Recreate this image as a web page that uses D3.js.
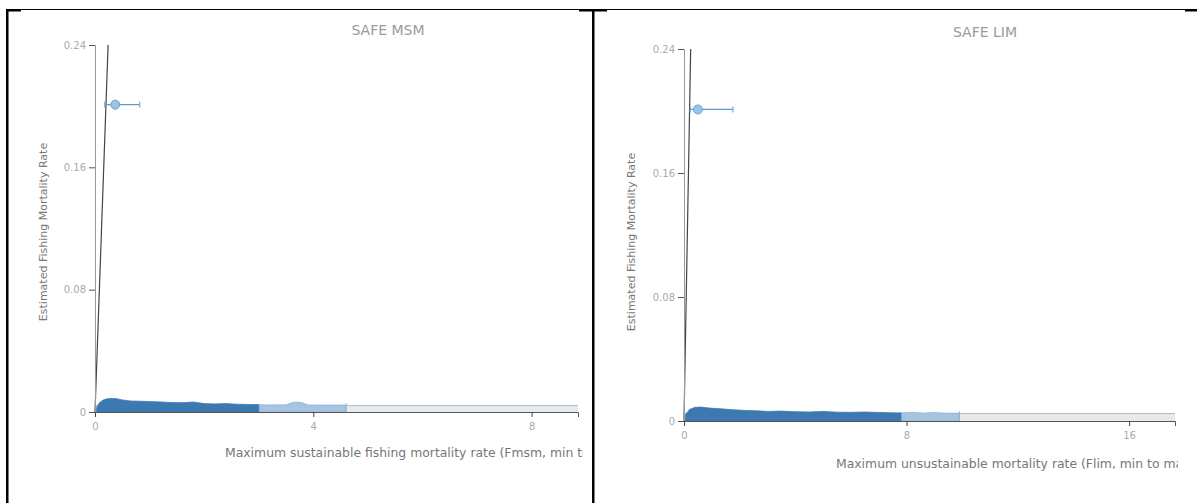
<!DOCTYPE html>
<html>
<head>
<meta charset="utf-8">
<script src="https://cdn.jsdelivr.net/npm/d3@7"></script>
<style>
    body { margin: 0; background: #fff; font-family: "DejaVu Sans", sans-serif; }
    svg text { font-family: "DejaVu Sans", sans-serif; }
</style>
</head>
<body>
<svg id="page" width="1197" height="503"></svg>
<script>
// ---- data ----
const yTickValues = [0, 0.08, 0.16, 0.24];
const msmTickValues = [0, 4, 8];
const limTickValues = [0, 8, 16];

// identity line F = Fref
const identityX = [0, 0.24];

// SAFE MSM: outlier stock with interval
const msmOutlierF = [0.37];
const msmOutlierLo = [0.18];
const msmOutlierHi = [0.82];
const msmOutlierRate = [0.201];

// SAFE MSM: dense cloud of stocks near zero (upper envelope)
const msmCloudX = [0.03, 0.08, 0.15, 0.22, 0.3, 0.4, 0.5, 0.65, 0.8, 1.0, 1.2, 1.4, 1.6, 1.8, 2.0, 2.2, 2.4, 2.6, 2.8, 3.0];
const msmCloudTop = [0.003, 0.006, 0.0078, 0.0086, 0.0089, 0.0087, 0.0079, 0.0072, 0.0071, 0.0068, 0.0066, 0.0062, 0.0061, 0.0065, 0.0055, 0.0053, 0.0055, 0.0051, 0.0049, 0.0048];
const msmTailX = [2.9, 3.2, 3.5, 3.6, 3.7, 3.8, 3.9, 4.2, 4.6];
const msmTailTop = [0.0047, 0.0046, 0.0047, 0.006, 0.0066, 0.006, 0.0046, 0.0045, 0.0045];
const msmBandTop = [0.0043];

// SAFE LIM
const limOutlierF = [0.5];
const limOutlierLo = [0.22];
const limOutlierHi = [1.76];
const limOutlierRate = [0.201];

const limCloudX = [0.05, 0.2, 0.4, 0.6, 0.8, 1.0, 1.4, 1.8, 2.2, 2.6, 3.0, 3.5, 4.0, 4.5, 5.0, 5.5, 6.0, 6.5, 7.0, 7.5, 7.8];
const limCloudTop = [0.004, 0.0075, 0.0088, 0.009, 0.0086, 0.0082, 0.0078, 0.0072, 0.0068, 0.0066, 0.0062, 0.0064, 0.006, 0.0058, 0.0062, 0.0057, 0.0056, 0.0058, 0.0055, 0.0053, 0.0052];
const limTailX = [7.7, 8.2, 8.6, 9.0, 9.4, 9.9];
const limTailTop = [0.0052, 0.0056, 0.0051, 0.0055, 0.005, 0.005];
const limBandTop = [0.0048];

// ---- layout ----
const panels = [
    {
        title: "SAFE MSM", titleX: 388, titleY: 35,
        xLabel: "Maximum sustainable fishing mortality rate (Fmsm, min to max)", xLabelX: 225, xLabelY: 457,
        yLabelX: 47, yLabelY: 232,
        svgX: 12, svgW: 571,
        left: 95, right: 578, bottom: 412, top: 45, xMax: 8.85,
        xTicks: msmTickValues,
        outlier: { f: msmOutlierF, lo: msmOutlierLo, hi: msmOutlierHi, rate: msmOutlierRate },
        cloudX: msmCloudX, cloudTop: msmCloudTop, tailX: msmTailX, tailTop: msmTailTop, bandTop: msmBandTop
    },
    {
        title: "SAFE LIM", titleX: 985, titleY: 37,
        xLabel: "Maximum unsustainable mortality rate (Flim, min to max)", xLabelX: 836, xLabelY: 468,
        yLabelX: 635, yLabelY: 242,
        svgX: 600, svgW: 578,
        left: 684, right: 1175, bottom: 421, top: 49, xMax: 17.65,
        xTicks: limTickValues,
        outlier: { f: limOutlierF, lo: limOutlierLo, hi: limOutlierHi, rate: limOutlierRate },
        cloudX: limCloudX, cloudTop: limCloudTop, tailX: limTailX, tailTop: limTailTop, bandTop: limBandTop
    }
];

const page = d3.select("#page");

function createPanel(p) {
    // nested svg clips the long x label like the original
    const g = page.append("svg")
        .attr("x", p.svgX)
        .attr("y", 0)
        .attr("width", p.svgW)
        .attr("height", 503)
        .append("g")
        .attr("transform", `translate(${-p.svgX}, 0)`);

    const x = d3.scaleLinear().domain([0, p.xMax]).range([p.left, p.right]);
    const y = d3.scaleLinear().domain([0, 0.24]).range([p.bottom, p.top]);

    // grey band along the bottom
    g.append("rect")
        .attr("x", x(0))
        .attr("y", y(p.bandTop[0]))
        .attr("width", x(p.xMax) - x(0))
        .attr("height", y(0) - y(p.bandTop[0]))
        .attr("fill", "#e7eaed");
    g.append("line")
        .attr("x1", x(0)).attr("x2", x(p.xMax))
        .attr("y1", y(p.bandTop[0])).attr("y2", y(p.bandTop[0]))
        .attr("stroke", "#b3bac2")
        .attr("stroke-width", 1);

    // light interval tail
    const area = d3.area()
        .x(d => x(d[0]))
        .y0(y(0))
        .y1(d => y(d[1]));

    g.append("path")
        .datum(d3.zip(p.tailX, p.tailTop))
        .attr("d", area)
        .attr("fill", "#a5c4e0")
        .attr("stroke", "#8fb5d8")
        .attr("stroke-width", 0.8);
    g.append("line")
        .attr("x1", x(p.tailX[p.tailX.length - 1])).attr("x2", x(p.tailX[p.tailX.length - 1]))
        .attr("y1", y(p.tailTop[p.tailTop.length - 1]) - 2).attr("y2", y(0))
        .attr("stroke", "#8fb5d8");

    // dense dark cloud
    g.append("path")
        .datum(d3.zip(p.cloudX, p.cloudTop))
        .attr("d", area)
        .attr("fill", "#3d79b1")
        .attr("stroke", "#3d79b1")
        .attr("stroke-width", 0.8);

    // identity line
    const line = d3.line().x(d => x(d)).y(d => y(d));
    g.append("path")
        .datum(identityX)
        .attr("d", line)
        .attr("fill", "none")
        .attr("stroke", "#444")
        .attr("stroke-width", 1.2);

    // outlier with horizontal interval
    const o = p.outlier;
    const oy = y(o.rate[0]);
    g.append("line")
        .attr("x1", x(o.lo[0])).attr("x2", x(o.hi[0]))
        .attr("y1", oy).attr("y2", oy)
        .attr("stroke", "#5f9bd0")
        .attr("stroke-width", 1.2);
    for (const v of [o.lo[0], o.hi[0]]) {
        g.append("line")
            .attr("x1", x(v)).attr("x2", x(v))
            .attr("y1", oy - 3).attr("y2", oy + 3)
            .attr("stroke", "#5f9bd0");
    }
    g.append("circle")
        .attr("cx", x(o.f[0]))
        .attr("cy", oy)
        .attr("r", 4.5)
        .attr("fill", "#9cc2e5")
        .attr("stroke", "#6aa3d6")
        .attr("stroke-width", 1);

    // axes
    const yAxis = d3.axisLeft(y)
        .tickValues(yTickValues)
        .tickFormat(d => d === 0 ? "0" : d3.format(".2f")(d))
        .tickSize(6);
    const yg = g.append("g")
        .attr("transform", `translate(${p.left}, 0)`)
        .call(yAxis);
    yg.select(".domain").attr("stroke", "#9a9a9a");
    yg.selectAll(".tick line").attr("stroke", "#555");
    yg.selectAll(".tick text").attr("fill", "#aaa").style("font-size", "10px");

    const xAxis = d3.axisBottom(x)
        .tickValues(p.xTicks)
        .tickSize(5);
    const xg = g.append("g")
        .attr("transform", `translate(0, ${p.bottom})`)
        .call(xAxis);
    xg.select(".domain").attr("stroke", "#555");
    xg.selectAll(".tick line").attr("stroke", "#444");
    xg.selectAll(".tick text").attr("fill", "#aaa").style("font-size", "10px").attr("dy", "1em");

    // titles
    g.append("text")
        .attr("x", p.titleX)
        .attr("y", p.titleY)
        .attr("text-anchor", "middle")
        .attr("fill", "#9a9a9a")
        .style("font-size", "14px")
        .text(p.title);

    g.append("text")
        .attr("x", p.xLabelX)
        .attr("y", p.xLabelY)
        .attr("fill", "#777")
        .style("font-size", "12.4px")
        .text(p.xLabel);

    g.append("text")
        .attr("transform", `translate(${p.yLabelX}, ${p.yLabelY}) rotate(-90)`)
        .attr("text-anchor", "middle")
        .attr("fill", "#777")
        .style("font-size", "11px")
        .text("Estimated Fishing Mortality Rate");
}

for (const p of panels) createPanel(p);

// table borders
page.append("line").attr("x1", 6).attr("x2", 1197).attr("y1", 9.5).attr("y2", 9.5).attr("stroke", "#000");
page.append("rect").attr("x", 6).attr("y", 9).attr("width", 2.5).attr("height", 494).attr("fill", "#000");
page.append("rect").attr("x", 6).attr("y", 9).attr("width", 15).attr("height", 2.5).attr("fill", "#000");
page.append("rect").attr("x", 592).attr("y", 9).attr("width", 2.5).attr("height", 494).attr("fill", "#000");
page.append("rect").attr("x", 579).attr("y", 9).attr("width", 28).attr("height", 2.5).attr("fill", "#000");
page.append("rect").attr("x", 1185).attr("y", 9).attr("width", 12).attr("height", 2.5).attr("fill", "#000");
</script>
</body>
</html>
